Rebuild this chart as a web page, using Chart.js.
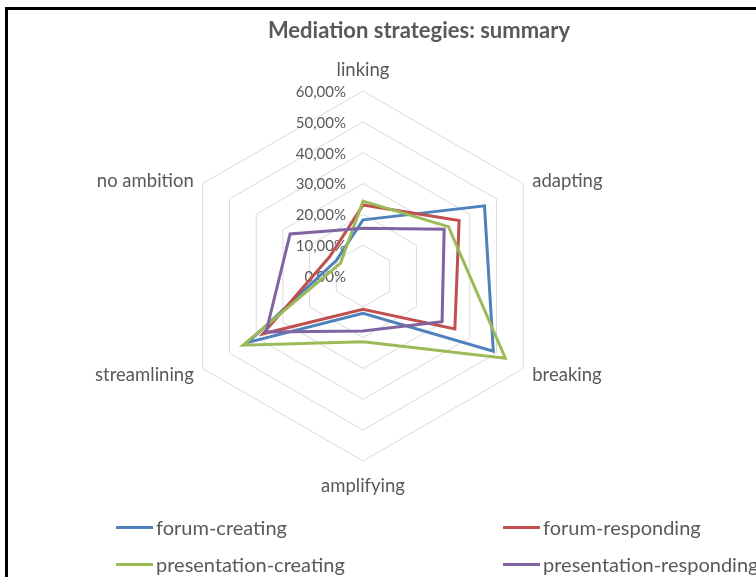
<!DOCTYPE html>
<html>
<head>
<meta charset="utf-8">
<script src="https://cdn.jsdelivr.net/npm/chart.js@4.4.1/dist/chart.umd.min.js"></script>
<style>
html,body{margin:0;padding:0;width:756px;height:577px;overflow:hidden;background:#fff;}
#c{position:absolute;left:0;top:0;}
#frame{position:absolute;left:5px;top:7px;width:900px;height:700px;border-left:3px solid #000;border-top:3px solid #000;pointer-events:none;}
#title{position:absolute;left:0;width:838px;top:17px;text-align:center;font:bold 22px Lato, sans-serif;line-height:26px;color:#595959;}
.leg{position:absolute;height:24px;display:flex;align-items:center;font:20px Lato, sans-serif;color:#595959;white-space:nowrap;}
.leg .sw{display:inline-block;width:37px;height:3px;margin-right:3px;}
</style>
</head>
<body>
<canvas id="c" width="756" height="577"></canvas>
<div id="frame"></div>
<div id="title">Mediation strategies: summary</div>
<div id="legend"></div>
<script>
const categories = ['linking', 'adapting', 'breaking', 'amplifying', 'streamlining', 'no ambition'];
const forumCreating = [18.2, 45.5, 48.8, 12.1, 43.1, 10.0];
const forumResponding = [23.0, 36.0, 34.4, 10.8, 37.5, 12.5];
const presentationCreating = [24.3, 32.0, 53.3, 21.3, 44.9, 8.4];
const presentationResponding = [15.5, 30.4, 29.6, 17.8, 36.3, 27.3];
const tickValues = [0, 10, 20, 30, 40, 50, 60];
const tickLabels = ['0,00%', '10,00%', '20,00%', '30,00%', '40,00%', '50,00%', '60,00%'];
const seriesNames = ['forum-creating', 'forum-responding', 'presentation-creating', 'presentation-responding'];
const seriesColors = ['#4F81BD', '#C0504D', '#9BBB59', '#8064A2'];

const labelPlugin = {
  id: 'customLabels',
  beforeDatasetsDraw(chart) {
    const s = chart.scales.r;
    const ctx = chart.ctx;
    ctx.save();
    ctx.fillStyle = '#595959';
    ctx.font = '15px Lato, sans-serif';
    ctx.textAlign = 'right';
    ctx.textBaseline = 'middle';
    tickValues.forEach((v, i) => {
      const d = s.getDistanceFromCenterForValue(v);
      ctx.fillText(tickLabels[i], s.xCenter - 17, s.yCenter - d + 1);
    });
    ctx.font = '18.5px Lato, sans-serif';
    categories.forEach((c, i) => {
      const p = s.getPointPosition(i, s.drawingArea);
      let x = p.x, y = p.y;
      if (i === 0) { ctx.textAlign = 'center'; y -= 21; }
      else if (i === 3) { ctx.textAlign = 'center'; y += 25; }
      else if (i === 1) { ctx.textAlign = 'left'; x += 9; y -= 2; }
      else if (i === 2) { ctx.textAlign = 'left'; x += 9; y += 7; }
      else if (i === 4) { ctx.textAlign = 'right'; x -= 9; y += 7; }
      else { ctx.textAlign = 'right'; x -= 9; y -= 2; }
      ctx.fillText(c, x, y);
    });
    ctx.restore();
  }
};

const seriesData = [forumCreating, forumResponding, presentationCreating, presentationResponding];
const datasets = seriesData.map((d, i) => ({
  label: seriesNames[i],
  data: d,
  borderColor: seriesColors[i],
  backgroundColor: seriesColors[i],
  borderWidth: 3,
  pointRadius: 0,
  fill: false,
  tension: 0,
  order: 3 - i
}));

new Chart(document.getElementById('c'), {
  type: 'radar',
  data: { labels: categories, datasets: datasets },
  options: {
    responsive: false,
    animation: false,
    layout: { padding: { left: 178, right: 208, top: 91, bottom: 116 } },
    plugins: { legend: { display: false }, title: { display: false }, tooltip: { enabled: false } },
    scales: {
      r: {
        min: 0, max: 60,
        ticks: { stepSize: 10, display: false },
        grid: { color: '#D9D9D9', lineWidth: 1 },
        angleLines: { display: false },
        pointLabels: { display: false }
      }
    }
  },
  plugins: [labelPlugin]
});

const legendPos = [[116, 515], [503, 515], [116, 552], [503, 552]];
const legendEl = document.getElementById('legend');
seriesNames.forEach((n, i) => {
  const d = document.createElement('div');
  d.className = 'leg';
  d.style.left = legendPos[i][0] + 'px';
  d.style.top = legendPos[i][1] + 'px';
  const sw = document.createElement('span');
  sw.className = 'sw';
  sw.style.background = seriesColors[i];
  d.appendChild(sw);
  d.appendChild(document.createTextNode(n));
  legendEl.appendChild(d);
});
</script>
</body>
</html>
